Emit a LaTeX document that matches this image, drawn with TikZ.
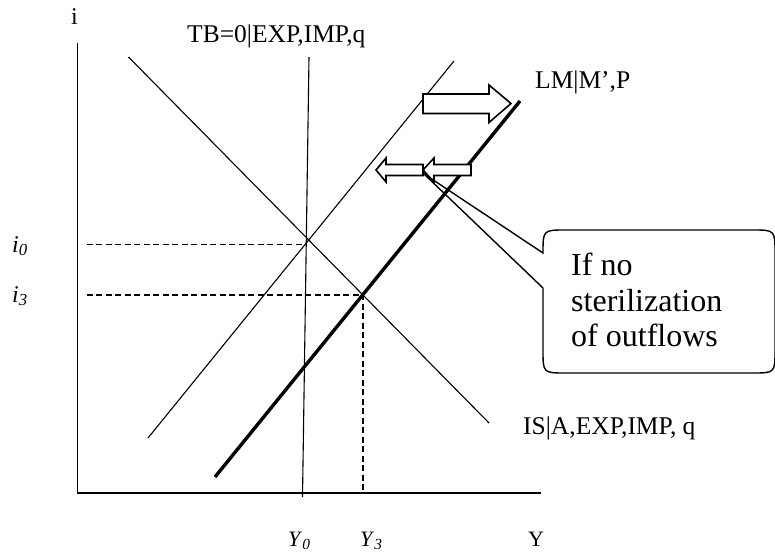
\documentclass[tikz,border=0pt]{standalone}
\usepackage{fontspec}
\setmainfont{Liberation Serif}
\begin{document}
\begin{tikzpicture}[
  x=1pt, y=-1pt,
  axis/.style={line width=1.6pt},
  curve/.style={line width=1.1pt},
  moved/.style={line width=3.4pt},
  guide/.style={line width=1.2pt, dash pattern=on 6pt off 3.5pt},
  shiftarrow/.style={draw, line width=1.6pt, fill=white, line join=miter},
  lbl/.style={inner sep=0pt, anchor=base west, font=\fontsize{25.5}{30}\selectfont},
  axlbl/.style={inner sep=0pt, anchor=base west, font=\fontsize{22}{26}\selectfont},
  ilbl/.style={axlbl, font=\fontsize{24}{28}\selectfont},
]
\useasboundingbox (0,0) rectangle (775,556);
% axes
\coordinate (top) at (77.6,42.6);
\coordinate (O)   at (77.6,493);
\coordinate (end) at (541,493);
\draw[axis] (top) -- (O) -- (end);
\node[ilbl] (ilab) at (71,25) {i};
\node[axlbl] (Ylab) at (528,546) {Y};
% schedules
\coordinate (tb1) at (309,57);   \coordinate (tb2) at (302.5,497);
\coordinate (is1) at (128.5,57); \coordinate (is2) at (489,423);
\coordinate (lm1) at (148,438);  \coordinate (lm2) at (454,61);
\coordinate (lm3) at (215,477);  \coordinate (lm4) at (520,101);
\draw[curve] (tb1) -- (tb2);
\draw[curve] (is1) -- (is2);
\draw[curve] (lm1) -- (lm2);
\draw[moved] (lm3) -- (lm4);
\node[lbl] (tblab) at (187,43)  {TB=0|EXP,IMP,q};
\node[lbl] (lmlab) at (535,89)  {LM|M’,P};
\node[lbl] (islab) at (523,434) {IS|A,EXP,IMP, q};
% equilibria
\coordinate (e0) at (305,244.5);
\coordinate (e3) at (363,295);
\draw[guide] (86.5,244.5) -- (e0);
\draw[guide] (86.5,295) -- (e3) -- (363,493);
\node[ilbl] (i0) at (12,252) {\textit{i}\textsubscript{\textit{0}}};
\node[ilbl] (i3) at (12,302) {\textit{i}\textsubscript{\textit{3}}};
\node[axlbl] (Y0) at (288,546) {\textit{Y}\textsubscript{\textit{0}}};
\node[axlbl] (Y3) at (360,546) {\textit{Y}\textsubscript{\textit{3}}};
% shift arrows
\draw[shiftarrow] (423,94) -- (489,94) -- (489,85) -- (511,103.5) -- (489,122.5)
  -- (489,113.5) -- (423,113.5) -- cycle;
\foreach \t/\b/\e in {376/386/423, 423/434/471}
  \draw[shiftarrow] (\e,164.5) -- (\b,164.5) -- (\b,158) -- (\t,170) -- (\b,182)
    -- (\b,175.5) -- (\e,175.5) -- cycle;
% callout
\coordinate (ptr) at (423.5,173.5);
\draw[line width=1.4pt] (ptr) -- (543,253)
  .. controls (543,230) .. (566,230) -- (752,230)
  .. controls (775,230) .. (775,253) -- (775,350)
  .. controls (775,373) .. (752,373) -- (566,373)
  .. controls (543,373) .. (543,350) -- (543,288) -- cycle;
\node[inner sep=0pt, anchor=north west, align=left,
  font=\fontsize{32}{35.5}\selectfont] (note) at (571,253)
  {If no\\sterilization\\of outflows};
\end{tikzpicture}
\end{document}
